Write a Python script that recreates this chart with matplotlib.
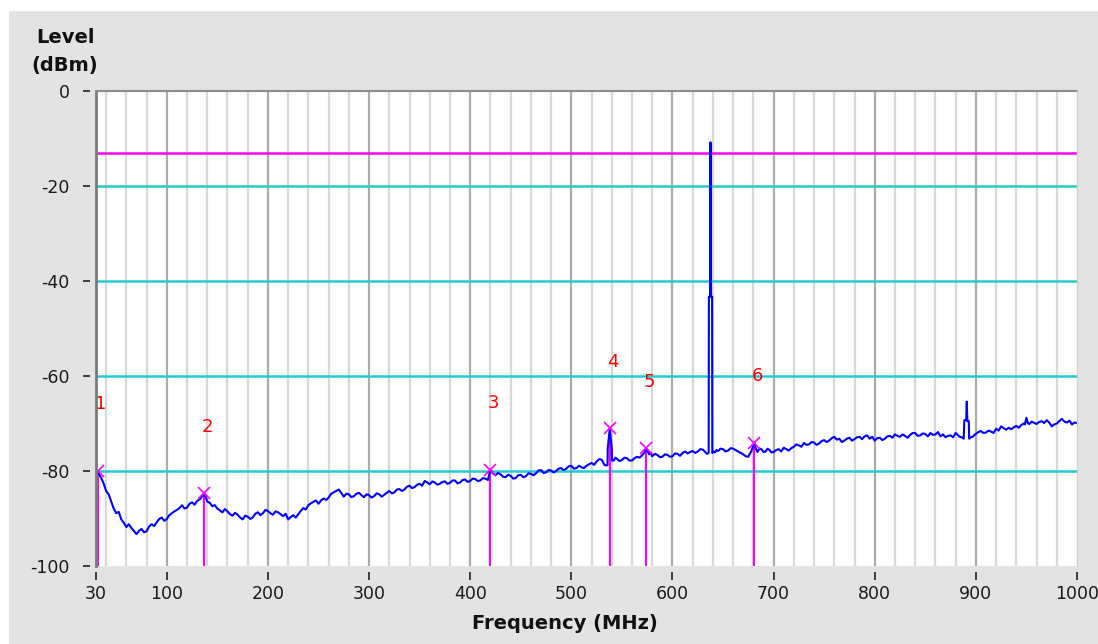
import matplotlib
matplotlib.use('Agg')
import matplotlib.pyplot as plt
from matplotlib.patches import Rectangle

# ---------------- data ----------------
trace_freq = [
    30, 32, 33.5, 35, 37.5, 40, 42.5, 45, 47.5, 50,
    52.5, 55, 57.5, 60, 62.5, 65, 67.5, 70, 72.5, 75,
    77.5, 80, 82.5, 85, 87.5, 90, 92.5, 95, 97.5, 100,
    102.5, 105, 107.5, 110, 112.5, 115, 117.5, 120, 122.5, 125,
    127.5, 130, 133, 137, 140, 142.5, 145, 147.5, 150, 152.5,
    155, 157.5, 160, 162.5, 165, 167.5, 170, 172.5, 175, 177.5,
    180, 182.5, 185, 187.5, 190, 192.5, 195, 197.5, 200, 202.5,
    205, 207.5, 210, 212.5, 215, 217.5, 220, 222.5, 225, 227.5,
    230, 232.5, 235, 237.5, 240, 242.5, 245, 247.5, 250, 252.5,
    255, 257.5, 260, 262.5, 265, 267.5, 270, 272.5, 275, 277.5,
    280, 282.5, 285, 287.5, 290, 292.5, 295, 297.5, 300, 302.5,
    305, 307.5, 310, 312.5, 315, 317.5, 320, 322.5, 325, 327.5,
    330, 332.5, 335, 337.5, 340, 342.5, 345, 347.5, 350, 352.5,
    355, 357.5, 360, 362.5, 365, 367.5, 370, 372.5, 375, 377.5,
    380, 382.5, 385, 387.5, 390, 392.5, 395, 397.5, 400, 402.5,
    405, 407.5, 410, 412.5, 415, 417.5, 420, 422.5, 425, 427.5,
    430, 432.5, 435, 437.5, 440, 442.5, 445, 447.5, 450, 452.5,
    455, 457.5, 460, 462.5, 465, 467.5, 470, 472.5, 475, 477.5,
    480, 482.5, 485, 487.5, 490, 492.5, 495, 497.5, 500, 502.5,
    505, 507.5, 510, 512.5, 515, 517.5, 520, 522.5, 525, 527.5,
    530, 533, 535.8, 536, 538, 540, 540.2, 542, 543.5, 545,
    547.5, 550, 552.5, 555, 557.5, 560, 562.5, 565, 567.5, 570,
    572, 574, 577, 578.5, 580, 582.5, 585, 587.5, 590, 592.5,
    595, 597.5, 600, 602.5, 605, 607.5, 610, 612.5, 615, 617.5,
    620, 622.5, 625, 627.5, 630, 632, 634, 635.8, 636, 637.4,
    637.6, 637.8, 639.2, 639.4, 640.5, 642, 643.5, 645, 647.5, 650,
    652.5, 655, 657.5, 660, 662.5, 665, 667.5, 670, 672.5, 675,
    676.5, 678, 681, 682.5, 684, 686, 688, 690, 692, 694,
    696, 698, 700, 702.5, 705, 707.5, 710, 712.5, 715, 717.5,
    720, 722.5, 725, 727.5, 730, 732.5, 735, 737.5, 740, 742.5,
    745, 747.5, 750, 752.5, 755, 757.5, 760, 762.5, 765, 767.5,
    770, 772.5, 775, 777.5, 780, 782.5, 785, 787.5, 790, 792.5,
    795, 797.5, 800, 802.5, 805, 807.5, 810, 812.5, 815, 817.5,
    820, 822.5, 825, 827.5, 830, 832.5, 835, 837.5, 840, 842.5,
    845, 847.5, 850, 852.5, 855, 857.5, 860, 862.5, 865, 867.5,
    870, 872.5, 875, 877.5, 880, 882, 884, 886, 888, 888.6,
    890.4, 891, 891.6, 893, 893.4, 895, 897, 898.5, 900, 902.5,
    905, 907.5, 910, 912.5, 915, 917.5, 920, 922.5, 925, 927.5,
    930, 932.5, 935, 937.5, 940, 942.5, 945, 947.5, 948.5, 950,
    951.5, 953, 955, 957, 960, 962.5, 965, 967.5, 970, 972.5,
    975, 977.5, 980, 982.5, 985, 987.5, 990, 992.5, 995, 997.5,
    1000,
]
trace_level = [
    -80.0, -80.0, -80.9, -81.4, -82.6, -84.2, -84.9, -86.4, -87.9, -88.9,
    -88.6, -90.2, -90.9, -91.8, -91.2, -92.0, -92.6, -93.3, -92.6, -92.2,
    -92.9, -92.7, -91.7, -91.2, -91.6, -90.8, -90.1, -89.8, -90.5, -90.1,
    -89.3, -88.9, -88.5, -88.2, -87.8, -87.2, -87.9, -87.7, -86.9, -86.6,
    -87.1, -86.3, -85.9, -84.7, -86.4, -86.7, -87.4, -87.2, -87.9, -88.3,
    -88.7, -88.0, -88.5, -89.1, -89.4, -88.8, -89.2, -89.8, -90.2, -89.4,
    -89.6, -90.1, -89.8, -89.0, -88.7, -89.3, -88.9, -88.2, -88.4, -88.9,
    -89.2, -88.5, -88.7, -89.1, -89.5, -89.0, -90.2, -89.7, -89.3, -89.8,
    -89.1, -88.4, -87.8, -88.1, -87.2, -86.8, -86.5, -86.2, -86.9, -86.2,
    -85.8, -86.1, -85.6, -84.8, -84.5, -84.2, -83.9, -84.6, -85.4, -84.8,
    -84.9, -85.5, -85.3, -84.8, -84.6, -85.1, -85.5, -84.9, -85.1, -85.6,
    -85.3, -84.7, -84.9, -85.4, -85.0, -84.6, -84.2, -84.7, -84.5, -83.9,
    -83.8, -84.2, -83.9, -83.3, -83.1, -83.6, -83.4, -82.9, -82.7, -83.1,
    -82.1, -82.4, -82.8, -82.2, -82.4, -82.9, -82.7, -82.3, -82.2, -82.7,
    -82.5, -82.0, -82.0, -82.6, -82.4, -81.9, -81.8, -82.3, -82.1, -81.6,
    -81.7, -82.1, -82.0, -81.5, -81.6, -81.9, -79.7, -80.5, -80.9, -80.4,
    -80.7, -81.2, -81.3, -80.8, -81.0, -81.6, -81.5, -80.9, -80.8, -81.3,
    -81.1, -80.5, -80.6, -80.9, -80.5, -79.9, -79.8, -80.4, -80.3, -79.8,
    -79.9, -80.3, -80.0, -79.5, -79.4, -79.8, -79.5, -79.0, -78.9, -79.5,
    -79.4, -78.9, -79.2, -79.4, -78.9, -78.6, -78.3, -78.7, -78.0, -77.5,
    -77.6, -78.8, -78.8, -75.3, -71.0, -75.3, -77.8, -77.8, -77.2, -77.4,
    -77.9, -77.7, -77.2, -77.3, -77.8, -77.8, -77.3, -77.0, -77.2, -76.7,
    -76.2, -75.2, -76.5, -76.1, -76.9, -76.4, -76.6, -77.1, -77.0, -76.5,
    -76.6, -77.0, -76.9, -76.3, -76.4, -76.8, -76.2, -75.9, -76.3, -76.0,
    -75.8, -76.2, -75.9, -75.4, -75.5, -75.9, -76.4, -76.2, -43.3, -43.3,
    -10.8, -43.3, -43.3, -76.2, -75.9, -76.1, -75.6, -75.8, -75.3, -75.4,
    -75.9, -75.7, -75.2, -75.3, -75.6, -75.9, -76.2, -76.5, -76.9, -77.0,
    -76.4, -75.8, -74.0, -75.3, -76.0, -75.3, -75.4, -76.0, -75.9, -75.3,
    -75.6, -76.1, -76.0, -75.6, -75.4, -75.9, -75.1, -75.4, -75.7, -75.2,
    -74.9, -74.4, -74.6, -74.9, -74.1, -74.5, -74.4, -73.9, -74.0, -74.5,
    -74.2, -73.7, -73.5, -73.9, -73.6, -73.1, -72.8, -73.4, -73.2, -73.9,
    -73.6, -73.2, -73.0, -73.6, -73.3, -72.9, -72.8, -73.3, -72.7, -72.5,
    -73.2, -72.8, -73.6, -73.1, -73.0, -73.5, -73.2, -72.7, -72.6, -73.0,
    -72.3, -72.6, -72.8, -72.3, -72.6, -73.0, -72.4, -72.0, -72.0, -72.6,
    -72.5, -72.1, -72.2, -72.7, -72.0, -72.4, -72.3, -71.8, -72.7, -72.3,
    -72.9, -72.6, -72.5, -72.9, -72.0, -72.4, -72.8, -72.9, -73.2, -69.3,
    -69.3, -65.4, -69.5, -69.5, -73.2, -72.9, -72.8, -72.4, -72.2, -71.8,
    -71.6, -72.0, -71.9, -71.5, -71.7, -72.0, -71.1, -71.5, -70.6, -71.0,
    -71.3, -70.9, -71.2, -70.8, -70.5, -70.9, -70.3, -70.0, -70.2, -68.8,
    -70.0, -70.1, -69.6, -69.8, -70.1, -69.7, -69.5, -69.9, -69.3, -69.8,
    -70.6, -70.2, -70.0, -69.5, -69.0, -69.6, -69.8, -69.4, -70.2, -69.8,
    -69.9,
]

marker_ids = ['1', '2', '3', '4', '5', '6']
marker_freq = [32, 137, 420, 538, 574, 681]
marker_level = [-80.0, -84.7, -79.7, -71.0, -75.2, -74.0]

limit_level = -13
ref_levels = [-20, -40, -60, -80]

x_ticks = [30, 100, 200, 300, 400, 500, 600, 700, 800, 900, 1000]
y_ticks = [0, -20, -40, -60, -80, -100]
major_grid = [100, 200, 300, 400, 500, 600, 700, 800, 900]
minor_grid = [f for f in range(40, 1000, 20) if f % 100 != 0]

# ---------------- figure ----------------
W, H = 1098, 644
fig = plt.figure(figsize=(W / 100, H / 100), dpi=100)
fig.patch.set_facecolor('white')
fig.add_artist(Rectangle((9 / W, 0), 1 - 9 / W, 1 - 11 / H, transform=fig.transFigure,
                         facecolor='#e3e3e3', edgecolor='none', zorder=-10))

ax = fig.add_axes([96 / W, 1 - 566 / H, (1077 - 96) / W, (566 - 91) / H])
ax.set_facecolor('white')
ax.set_xlim(30, 1000)
ax.set_ylim(-100, 0)

for f in minor_grid:
    ax.axvline(f, color='#d8d8d8', lw=1.6, zorder=1)
for f in major_grid:
    ax.axvline(f, color='#ababab', lw=1.6, zorder=1)
for lv in ref_levels:
    ax.axhline(lv, color='#22cccc', lw=1.8, zorder=2)
ax.axhline(limit_level, color='#ff00ff', lw=1.8, zorder=2)

ax.plot(trace_freq, trace_level, color='#0000ff', lw=1.5, zorder=4)

ax.vlines(marker_freq, -100, marker_level, color='#ff00ff', lw=1.5, zorder=3)
ax.plot(marker_freq, marker_level, 'x', color='#ff00ff', ms=8, mew=1.2, zorder=5)
for mid, f, lv in zip(marker_ids, marker_freq, marker_level):
    ax.annotate(mid, (f, lv), xytext=(2, 48), textcoords='offset points',
                ha='center', va='center', color='#ff0000', fontsize=13, zorder=6)

for s in ax.spines.values():
    s.set_visible(False)
ax.spines['left'].set_position(('outward', 4))
ax.spines['bottom'].set_position(('outward', 4))

ax.plot([0, 0], [0, 1], transform=ax.transAxes, color='#7a7a7a', lw=2, clip_on=False, zorder=7)
ax.plot([0, 1], [1, 1], transform=ax.transAxes, color='#8c8c8c', lw=1.5, clip_on=False, zorder=7)
ax.plot([1, 1], [0, 1], transform=ax.transAxes, color='#cfcfcf', lw=1, clip_on=False, zorder=7)

ax.set_xticks(x_ticks)
ax.set_yticks(y_ticks)
ax.set_xticklabels([str(v) for v in x_ticks])
ax.set_yticklabels([str(v) for v in y_ticks])
ax.tick_params(axis='x', length=6, width=1.3, color='#303030', pad=4,
               labelsize=12.5, labelcolor='#1a1a1a')
ax.tick_params(axis='y', length=5, width=1.3, color='#303030', pad=10,
               labelsize=12.5, labelcolor='#1a1a1a')

fig.text(65 / W, 1 - 43 / H, 'Level', ha='center', va='baseline',
         fontsize=14, fontweight='bold', color='#111111')
fig.text(65 / W, 1 - 71 / H, '(dBm)', ha='center', va='baseline',
         fontsize=14, fontweight='bold', color='#111111')
fig.text(565 / W, 1 - 629 / H, 'Frequency (MHz)', ha='center', va='baseline',
         fontsize=14, fontweight='bold', color='#111111')

fig.savefig('out.png', dpi=100)
